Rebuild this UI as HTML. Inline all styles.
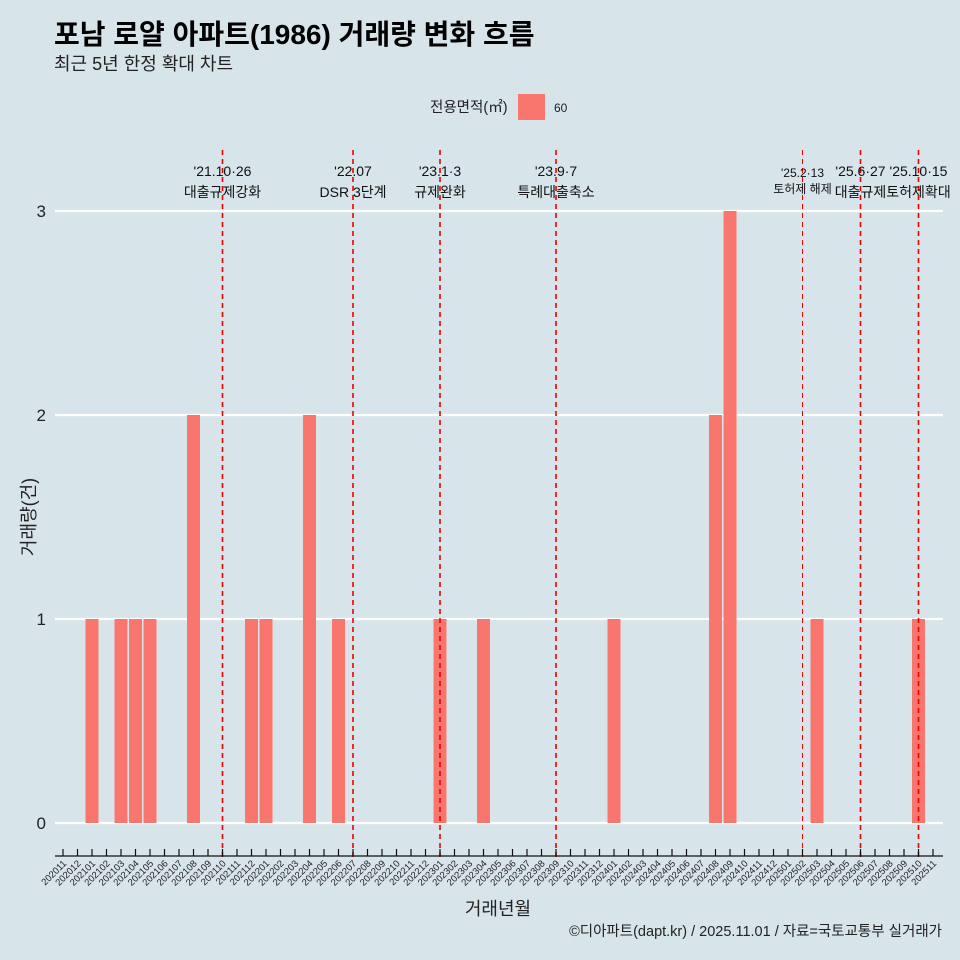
<!DOCTYPE html>
<html><head><meta charset="utf-8"><style>
body{margin:0;background:#d7e4ea;}
svg{display:block;font-family:"Liberation Sans","Noto Sans CJK KR",sans-serif;}
</style></head><body>
<svg id="chart" width="960" height="960" viewBox="0 0 960 960">
<rect width="960" height="960" fill="#d7e4ea"/>
<text x="54" y="44" font-size="28" font-weight="bold" fill="#000">포남 로얄 아파트(1986) 거래량 변화 흐름</text>
<text x="54" y="70" font-size="18" fill="#222">최근 5년 한정 확대 차트</text>
<g>
<text x="430" y="112" font-size="14.5" fill="#222">전용면적(㎡)</text>
<rect x="518" y="94" width="27" height="26" fill="#f8766d"/>
<text x="554" y="112" font-size="12" fill="#222">60</text>
</g>
<g id="grid"></g><g id="bars"></g><g id="events"></g><g id="xaxis"></g>
<text x="35" y="517" font-size="18" fill="#222" transform="rotate(-90 35 517)" text-anchor="middle">거래량(건)</text>
<text x="498" y="915" font-size="18" fill="#222" text-anchor="middle">거래년월</text>
<text x="942" y="936" font-size="14.5" fill="#222" text-anchor="end">©디아파트(dapt.kr) / 2025.11.01 / 자료=국토교통부 실거래가</text>
</svg>
<script>
const months=[];
for(let y=2020,m=11;!(y===2025&&m===12);){months.push(y+String(m).padStart(2,'0'));m++;if(m>12){m=1;y++;}}
const barMonths=["202101","202103","202104","202105","202108","202112","202201","202204","202206","202301","202304","202401","202408","202409","202503","202510"];
const barValues=[1,1,1,1,2,1,1,2,1,1,1,1,2,3,1,1];
const yTicks=[0,1,2,3];
const eventPos=[11,20,26,34,51,55,59];
const eventDates=["'21.10·26","'22.07","'23.1·3","'23.9·7","'25.2·13","'25.6·27","'25.10·15"];
const eventLabels=["대출규제강화","DSR 3단계","규제완화","특례대출축소","토허제 해제","대출규제","토허제확대"];
const NS="http://www.w3.org/2000/svg";
const x=i=>63+i*14.5;
const y=v=>823-v*204;
function mk(t,a,p){const e=document.createElementNS(NS,t);for(const k in a)e.setAttribute(k,a[k]);p.appendChild(e);return e;}
const grid=document.getElementById('grid');
yTicks.forEach(v=>{
 const l=mk('line',{x1:55,x2:943,y1:y(v),y2:y(v),stroke:'#fff','stroke-width':2.2},grid);
 
 
 const t=mk('text',{x:46,y:y(v)+6,'font-size':17,fill:'#222','text-anchor':'end'},grid);
 t.textContent=v;
 
 
});
const bars=document.getElementById('bars');
barMonths.forEach((m,k)=>{
 const i=months.indexOf(m);
 const r=mk('rect',{x:x(i)-6.5,y:y(barValues[k]),width:13,height:y(0)-y(barValues[k]),fill:'#f8766d'},bars);
 
 
});
const ev=document.getElementById('events');
eventPos.forEach((p,k)=>{
 const xx=x(p);
 const thin=k===4;
 const l=mk('line',{x1:xx,x2:xx,y1:150,y2:857,stroke:'#ee0000','stroke-width':thin?1:1.6,'stroke-dasharray':'5,4'},ev);
 
 
 const fs=thin?12:14;
 const t1=mk('text',{x:xx,y:thin?177:176,'font-size':fs,fill:'#111','text-anchor':'middle'},ev);
 t1.textContent=eventDates[k];
 
 
 const t2=mk('text',{x:xx,y:thin?193:197,'font-size':fs,fill:'#111','text-anchor':'middle'},ev);
 t2.textContent=eventLabels[k];
 
 
});
const xa=document.getElementById('xaxis');
const ax=mk('line',{x1:55,x2:943,y1:856,y2:856,stroke:'#111','stroke-width':1.2},xa);


months.forEach((m,i)=>{
 const tk=mk('line',{x1:x(i),x2:x(i),y1:849,y2:856,stroke:'#111','stroke-width':1.2},xa);
 
 
 const t=mk('text',{x:x(i)+4,y:864,'font-size':9.5,fill:'#222','text-anchor':'end',transform:`rotate(-45 ${x(i)+4} 864)`},xa);
 t.textContent=m;
 
 
});
</script>
</body></html>
